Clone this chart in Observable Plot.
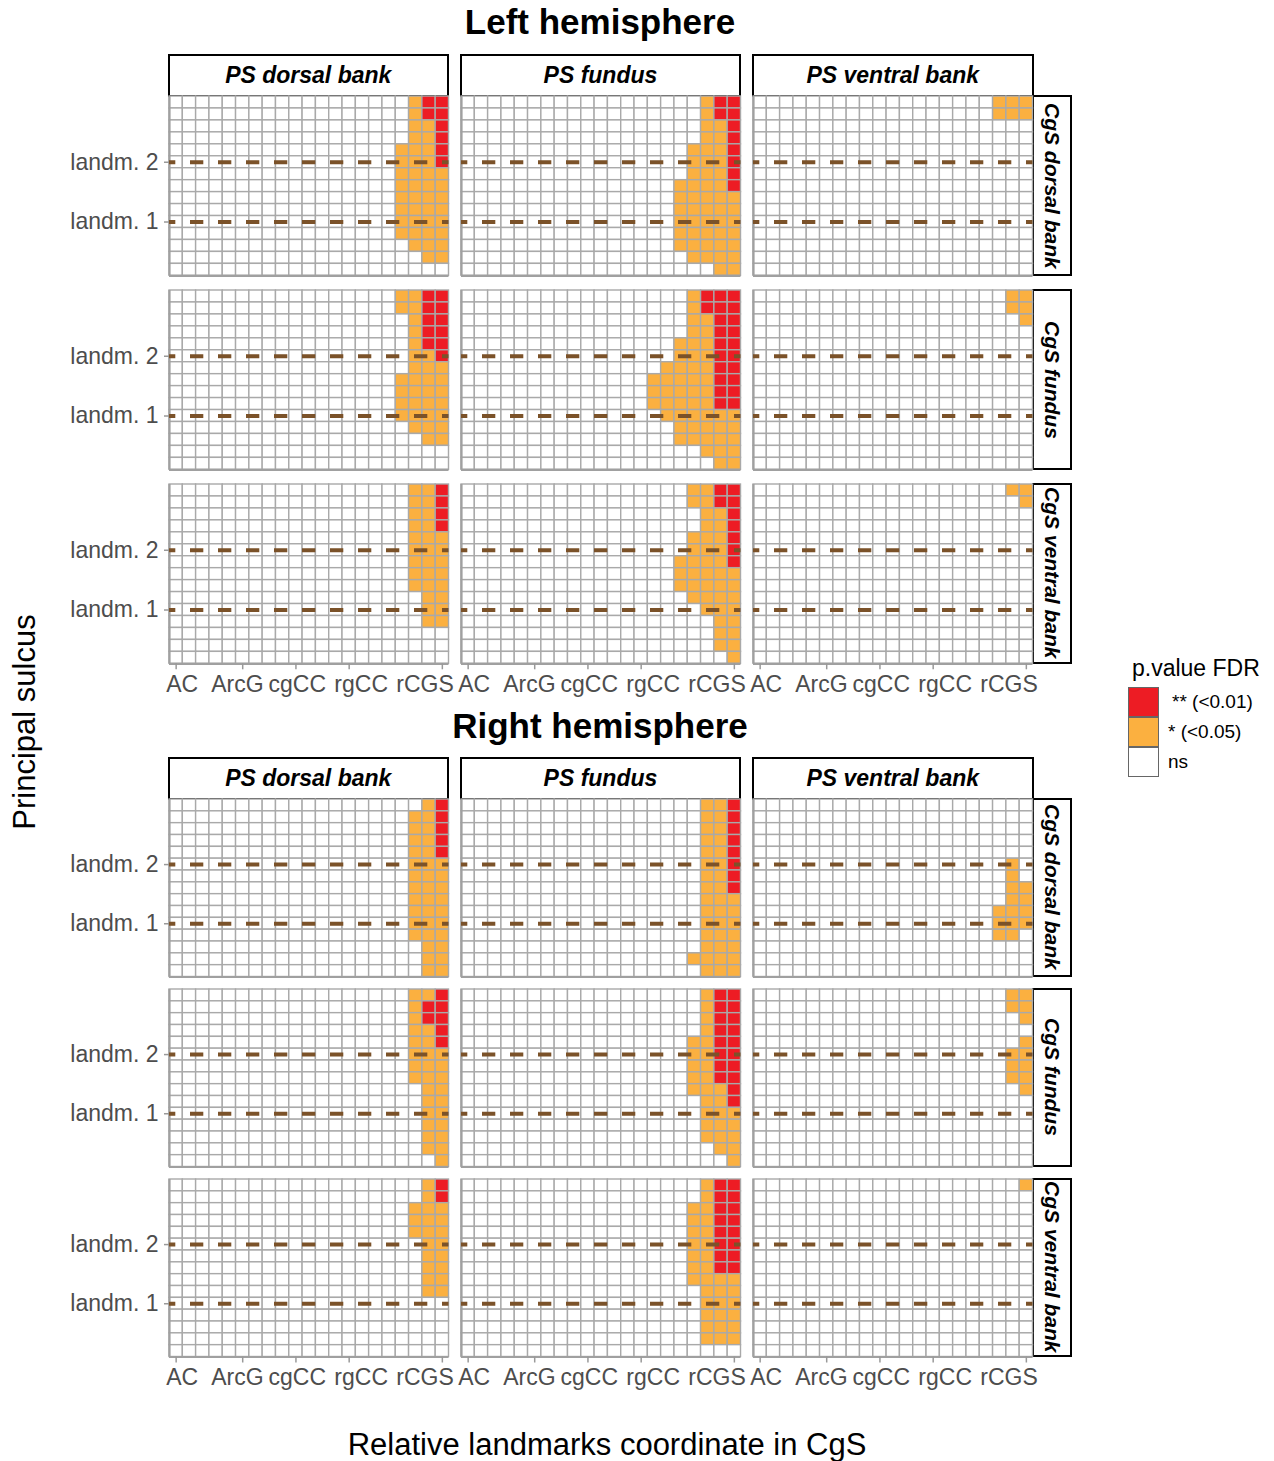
<!DOCTYPE html>
<html><head><meta charset="utf-8">
<script src="https://cdn.jsdelivr.net/npm/d3@7"></script>
<script src="https://cdn.jsdelivr.net/npm/@observablehq/plot@0.6"></script>
<style>
body{margin:0;background:#fff;font-family:"Liberation Sans",Arial,sans-serif;}
#root{position:relative;width:1274px;height:1461px;overflow:hidden;background:#fff;}
.abs{position:absolute;white-space:nowrap;}
.strip{position:absolute;box-sizing:border-box;border:2.5px solid #000;background:#fff;display:flex;align-items:center;justify-content:center;font-weight:bold;font-style:italic;font-size:23px;color:#000;white-space:nowrap;}
.vstrip{writing-mode:vertical-rl;font-size:21px;}
.title{font-weight:bold;font-size:35px;color:#000;transform:translate(-50%,-50%);}
.key{position:absolute;box-sizing:border-box;width:31px;height:30px;border:1px solid #666;}
.klab{position:absolute;font-size:19px;color:#000;transform:translateY(-50%);white-space:nowrap;}
</style></head>
<body><div id="root"></div>
<script>
// ---------- data ----------
const X_TICKS = [1, 6, 10, 14, 21];
const X_LABELS = ["AC", "ArcG", "cgCC", "rgCC", "rCGS"];
const X_LABEL_POS = [1.45, 5.6, 10.1, 14.9, 19.7];
const Y_TICKS = [5, 10];
const Y_LABELS = ["landm. 1", "landm. 2"];
const PS_PARTS = ["PS dorsal bank", "PS fundus", "PS ventral bank"];
const CGS_PARTS = ["CgS dorsal bank", "CgS fundus", "CgS ventral bank"];
const HEMIS = ["Left hemisphere", "Right hemisphere"];
const LEVELS = ["**", "*", "ns"];
const LEVEL_LABELS = ["** (<0.01)", "* (<0.05)", "ns"];
const COLORS = ["#ED1C24", "#FBB040", "#FFFFFF"];
const N_COLS = 21, N_ROWS = 15, FIRST_CODED_COL = 15;
// rows top -> bottom; chars = columns 15..21 ; '.' ns, 'o' *, 'r' **
const L_dorsal_dorsal = ["....orr","....orr","....oor","....oor","...ooor","...ooor","...oooo","...oooo","...oooo","...oooo","...oooo","...oooo","....ooo",".....oo","......."];
const L_fundus_dorsal = ["....orr","....orr","....oor","....oor","...ooor","...ooor","...ooor","..oooor","..ooooo","..ooooo","..ooooo","..ooooo","..ooooo","...oooo",".....oo"];
const L_ventral_dorsal = ["....ooo","....ooo",".......",".......",".......",".......",".......",".......",".......",".......",".......",".......",".......",".......","......."];
const L_dorsal_fundus = ["...oorr","...oorr","....orr","....orr","....orr","....oor","....ooo","...oooo","...oooo","...oooo","...oooo","....ooo",".....oo",".......","......."];
const L_fundus_fundus = ["...orrr","...orrr","...oorr","...oorr","..ooorr","..ooorr",".oooorr","ooooorr","ooooorr","ooooorr",".oooooo","..ooooo","..ooooo","....ooo",".....oo"];
const L_ventral_fundus = [".....oo",".....oo","......o",".......",".......",".......",".......",".......",".......",".......",".......",".......",".......",".......","......."];
const L_dorsal_ventral = ["....oor","....oor","....oor","....oor","....ooo","....ooo","....ooo","....ooo","....ooo",".....oo",".....oo",".....oo",".......",".......","......."];
const L_fundus_ventral = ["...oorr","...oorr","....oor","....oor","...ooor","...ooor","..oooor","..ooooo","..ooooo","...oooo","....ooo",".....oo",".....oo",".....oo","......o"];
const L_ventral_ventral = [".....oo","......o",".......",".......",".......",".......",".......",".......",".......",".......",".......",".......",".......",".......","......."];
const R_dorsal_dorsal = [".....or","....oor","....oor","....oor","....oor","....ooo","....ooo","....ooo","....ooo","....ooo","....ooo","....ooo",".....oo",".....oo",".....oo"];
const R_fundus_dorsal = ["....oor","....oor","....oor","....oor","....oor","....oor","....oor","....oor","....ooo","....ooo","....ooo","....ooo","....ooo","...oooo","....ooo"];
const R_ventral_dorsal = [".......",".......",".......",".......",".......",".....o.",".....o.",".....oo",".....oo","....ooo","....ooo","....oo.",".......",".......","......."];
const R_dorsal_fundus = ["....oor","....orr","....orr","....oor","....oor","....ooo","....ooo","....ooo",".....oo",".....oo",".....oo",".....oo",".....oo",".....oo","......o"];
const R_fundus_fundus = ["....orr","....orr","....orr","....orr","...oorr","...oorr","...oorr","...oorr","...ooor","....oor","....ooo","....ooo","....ooo",".....oo","......o"];
const R_ventral_fundus = [".....oo",".....oo","......o",".......","......o",".....oo",".....oo",".....oo","......o",".......",".......",".......",".......",".......","......."];
const R_dorsal_ventral = [".....or",".....or","....ooo","....ooo","....ooo",".....oo",".....oo",".....oo",".....oo",".....oo",".......",".......",".......",".......","......."];
const R_fundus_ventral = ["....orr","....orr","...oorr","...oorr","...oorr","...oorr","...oorr","...oorr","...oooo","....ooo","....ooo","....ooo","....ooo","....ooo","......."];
const R_ventral_ventral = ["......o",".......",".......",".......",".......",".......",".......",".......",".......",".......",".......",".......",".......",".......","......."];

const PANELS = [
  [[L_dorsal_dorsal, L_fundus_dorsal, L_ventral_dorsal],
   [L_dorsal_fundus, L_fundus_fundus, L_ventral_fundus],
   [L_dorsal_ventral, L_fundus_ventral, L_ventral_ventral]],
  [[R_dorsal_dorsal, R_fundus_dorsal, R_ventral_dorsal],
   [R_dorsal_fundus, R_fundus_fundus, R_ventral_fundus],
   [R_dorsal_ventral, R_fundus_ventral, R_ventral_ventral]]
];
const CODE = {".": "ns", "o": "*", "r": "**"};

// ---------- layout ----------
const PX = [168.5, 460.7, 753];
const PW = 279.5;
const LAYOUT = [
  {title: 22, stripTop: 54, py: [96, 290, 483.5], ph: 179.3},
  {title: 726, stripTop: 757, py: [798.5, 988.5, 1178.5], ph: 177.5}
];
const root = document.getElementById("root");

function addDiv(cls, text, style) {
  const d = document.createElement("div");
  d.className = cls;
  if (text != null) d.textContent = text;
  Object.assign(d.style, style);
  root.appendChild(d);
  return d;
}

function panelPlot(rows, showX, showY, h) {
  const cells = [];
  rows.forEach((str, r) => {
    for (let c = 1; c <= N_COLS; c++) {
      const ch = c >= FIRST_CODED_COL ? str[c - FIRST_CODED_COL] : ".";
      cells.push({x: c, y: N_ROWS - r, s: CODE[ch]});
    }
  });
  const mL = showY ? 110 : 4, mR = 4, mT = 4, mB = showX ? 45 : 4;
  const xDom = [0.5, N_COLS + 0.5], yDom = [0.5, N_ROWS + 0.5];
  const marks = [
    Plot.rect(cells, {x1: d => d.x - 0.5, x2: d => d.x + 0.5, y1: d => d.y - 0.5, y2: d => d.y + 0.5,
      fill: "s", stroke: "#a9a9a9", strokeWidth: 1.4}),
    Plot.ruleX([xDom[0]], {stroke: "#a0a0a0", strokeWidth: 2.2}),
    Plot.ruleY([yDom[0]], {stroke: "#a0a0a0", strokeWidth: 2.2}),
    Plot.ruleY(Y_TICKS, {stroke: "#7B5229", strokeWidth: 4, strokeDasharray: "13.3,14.7", strokeDashoffset: 7})
  ];
  if (showX) {
    marks.push(Plot.axisX({ticks: X_TICKS, tickSize: 6, text: null, stroke: "#999", strokeWidth: 1.5}));
    const lab = new Map(X_LABEL_POS.map((p, i) => [p, X_LABELS[i]]));
    marks.push(Plot.axisX({ticks: X_LABEL_POS, tickSize: 0, tickPadding: 12, tickFormat: d => lab.get(d),
      fontSize: 23, fill: "#4d4d4d"}));
  }
  if (showY) {
    const lab = new Map(Y_TICKS.map((p, i) => [p, Y_LABELS[i]]));
    marks.push(Plot.axisY({ticks: Y_TICKS, tickSize: 5, tickPadding: 6, tickFormat: d => lab.get(d),
      fontSize: 23, fill: "#4d4d4d", stroke: "#999", strokeWidth: 1.5}));
  }
  const svg = Plot.plot({
    width: mL + PW + mR, height: mT + h + mB,
    marginLeft: mL, marginRight: mR, marginTop: mT, marginBottom: mB,
    x: {domain: xDom, axis: null},
    y: {domain: yDom, axis: null},
    color: {domain: LEVELS, range: COLORS},
    style: {fontFamily: "Liberation Sans, Arial, sans-serif", background: "transparent", overflow: "visible"},
    marks
  });
  return {svg, mL, mT};
}

LAYOUT.forEach((L, hi) => {
  addDiv("abs title", HEMIS[hi], {left: "600px", top: L.title + "px"});
  PS_PARTS.forEach((p, ci) => {
    addDiv("strip", p, {left: (PX[ci] - 1) + "px", top: L.stripTop + "px", width: (PW + 2) + "px", height: (L.py[0] - L.stripTop + 1) + "px"});
  });
  CGS_PARTS.forEach((p, ri) => {
    addDiv("strip vstrip", p, {left: (PX[2] + PW - 0.5) + "px", top: (L.py[ri] - 1) + "px", width: "40px", height: (L.ph + 2) + "px"});
  });
  for (let ri = 0; ri < 3; ri++) {
    for (let ci = 0; ci < 3; ci++) {
      const {svg, mL, mT} = panelPlot(PANELS[hi][ri][ci], ri === 2, ci === 0, L.ph);
      svg.style.position = "absolute";
      svg.style.left = (PX[ci] - mL) + "px";
      svg.style.top = (L.py[ri] - mT) + "px";
      root.appendChild(svg);
    }
  }
});

// axis titles
addDiv("abs", "Principal sulcus", {left: "25px", top: "722px", fontSize: "31px", transform: "translate(-50%,-50%) rotate(-90deg)"});
addDiv("abs", "Relative landmarks coordinate in CgS", {left: "607px", top: "1445px", fontSize: "31px", transform: "translate(-50%,-50%)"});

// legend
addDiv("abs", "p.value FDR", {left: "1132px", top: "668px", fontSize: "23px", transform: "translateY(-50%)"});
LEVELS.forEach((lv, i) => {
  addDiv("key", null, {left: "1128px", top: (687 + i * 30) + "px", background: COLORS[i]});
  addDiv("klab", LEVEL_LABELS[i], {left: (i === 0 ? 1172 : 1168) + "px", top: (702 + i * 30) + "px"});
});
</script></body></html>
